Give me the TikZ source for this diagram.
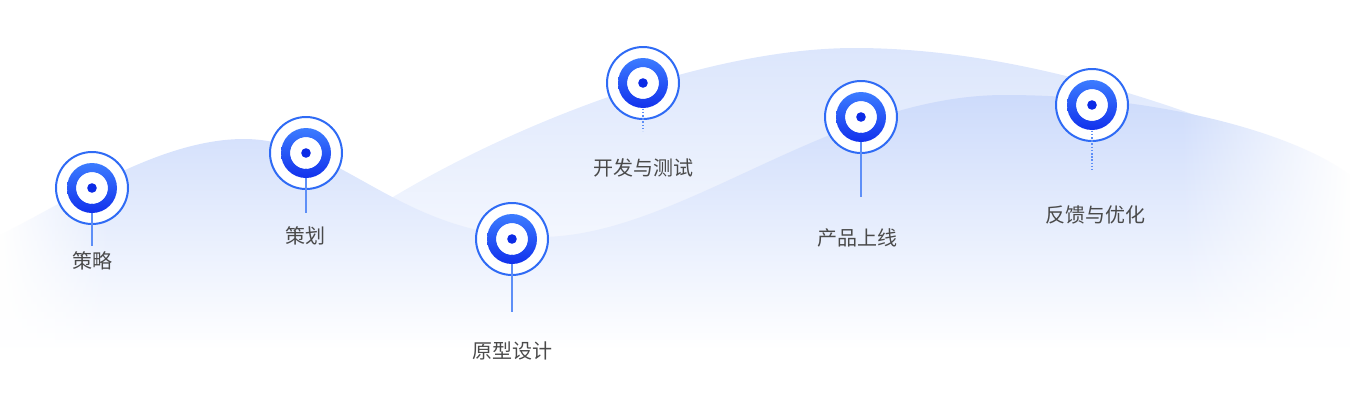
\documentclass[tikz,border=0pt]{standalone}
\usepackage{fontspec}
\newfontfamily\cjk{Noto Sans CJK SC}
\usetikzlibrary{fadings}
\definecolor{ringblue}{HTML}{2F6BF5}
\definecolor{gradtop}{HTML}{3C7CFF}
\definecolor{gradbot}{HTML}{1231EC}
\definecolor{dotblue}{HTML}{0B2BE6}
\definecolor{linkblue}{HTML}{5E8FF7}
\definecolor{txtgray}{HTML}{4A4A4A}
\definecolor{waveA}{HTML}{CDDBFB}
\definecolor{waveB}{HTML}{DCE6FC}
\tikzfading[name=fadeR, left color=transparent!100, right color=transparent!0]
\tikzfading[name=fadeL, left color=transparent!0, right color=transparent!100]
\tikzset{
  marker/.style={circle, draw=ringblue, line width=1.5pt, fill=white, minimum size=54pt, inner sep=0pt},
  stagelabel/.style={font=\cjk\fontsize{15}{18}\selectfont, text=txtgray, inner sep=0pt},
  link/.style={draw=linkblue, line width=0.8pt},
  dotlink/.style={link, dash pattern=on 1.2pt off 1.2pt},
}
\newcommand\innerring[1]{%
  \shade[top color=gradtop, bottom color=gradbot, even odd rule]
    (#1.center) circle[radius=18.75pt] (#1.center) circle[radius=11.8pt];
  \fill[white] (#1.center) circle[radius=11.8pt];
  \fill[dotblue] (#1.center) circle[radius=3.6pt];
}
\begin{document}
\begin{tikzpicture}[x=0.75pt,y=-0.75pt]
\useasboundingbox (0,0) rectangle (1350,400);
% back wave
\shade[top color=waveB, bottom color=white]
  (380,205) .. controls (500,130) and (700,48) .. (855,48)
  .. controls (1000,48) and (1150,95) .. (1260,140)
  .. controls (1310,165) and (1340,185) .. (1350,195)
  -- (1350,335) -- (380,335) -- cycle;
% front wave
\shade[top color=waveA, bottom color=white]
  (0,235) .. controls (70,200) and (160,139) .. (244,139)
  .. controls (340,139) and (400,237) .. (540,237)
  .. controls (680,237) and (830,95) .. (1005,95)
  .. controls (1150,95) and (1290,130) .. (1350,175)
  -- (1350,350) -- (0,350) -- cycle;
% edge fades
\fill[white, path fading=fadeR] (1180,0) rectangle (1351,400);
\fill[white, path fading=fadeL] (-1,0) rectangle (110,400);
% markers
\node[marker] (m1) at (92,188) {};
\node[marker] (m2) at (306,153) {};
\node[marker] (m3) at (512,239) {};
\node[marker] (m4) at (643,83) {};
\node[marker] (m5) at (861,117) {};
\node[marker] (m6) at (1092,105) {};
% connector ends
\coordinate (e1) at (92,246);
\coordinate (e2) at (306,213);
\coordinate (e3) at (512,312);
\coordinate (e4) at (643,131);
\coordinate (e5) at (861,197);
\coordinate (e6) at (1092,170);
\draw[link] (m1.center) -- (e1);
\draw[link] (m2.center) -- (e2);
\draw[link] (m3.center) -- (e3);
\draw[dotlink] (m4.center) -- (e4);
\draw[link] (m5.center) -- (e5);
\draw[dotlink] (m6.center) -- (e6);
\innerring{m1}
\innerring{m2}
\innerring{m3}
\innerring{m4}
\innerring{m5}
\innerring{m6}
% labels
\node[stagelabel] (t1) at (92,261) {策略};
\node[stagelabel] (t2) at (305,236) {策划};
\node[stagelabel] (t3) at (512,351) {原型设计};
\node[stagelabel] (t4) at (643,168) {开发与测试};
\node[stagelabel] (t5) at (857,238) {产品上线};
\node[stagelabel] (t6) at (1095,215) {反馈与优化};
\end{tikzpicture}
\end{document}
